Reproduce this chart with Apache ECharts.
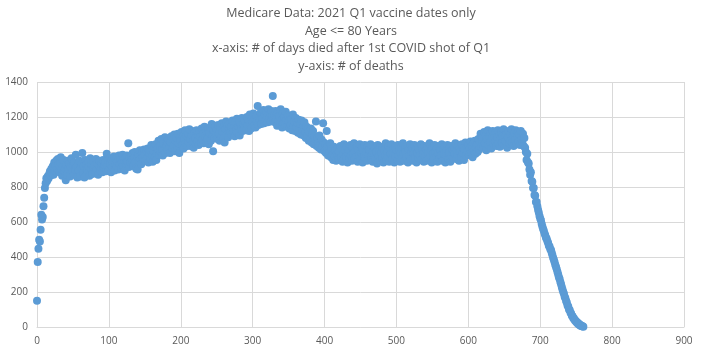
<!DOCTYPE html>
<html lang="en">
<head>
    <meta charset="UTF-8">
    <title>Medicare Data: 2021 Q1 vaccine dates only</title>
    <script src="https://cdn.jsdelivr.net/npm/echarts@6/dist/echarts.min.js"></script>
    <style>
        html, body { margin: 0; padding: 0; background: #fff; }
        #mChart { width: 702px; height: 352px; }
    </style>
</head>
<body>
    <div id="mChart"></div>

    <script type="text/javascript">
        // deaths per day after 1st shot, one value per day starting at day 0
        const rampUp = [150, 372, 447, 498, 488, 556, 642, 614, 628, 690, 738, 795, 822, 850, 835,
            862, 848, 875, 890, 866, 905, 880, 918, 870, 940, 895, 925, 952, 905, 960]

        const firstPlateau = [
            930, 885, 945, 970, 900, 865, 920, 955, 890, 910, 838, 925, 870, 950, 905, 935, 860, 915, 965, 895,
            925, 870, 940, 900, 985, 915, 855, 930, 895, 950, 860, 910, 935, 995, 880, 920, 855, 955, 905, 930,
            895, 945, 915, 865, 965, 905, 930, 875, 950, 910, 920, 880, 960, 900, 935, 870, 925, 950, 895, 915,
            935, 885, 955, 910, 925, 945, 890, 990, 920, 950, 900, 965, 930, 885, 955, 915, 940, 975, 895, 930,
            960, 915, 945, 900, 980, 930, 965, 905, 940, 985, 920, 955, 895, 970, 935, 980, 945, 1050, 915, 965,
            940, 980, 955, 995, 920, 965, 1000, 945, 905, 975, 900, 985, 950, 1010, 960, 930, 995, 970, 950, 1015]

        const climb = [
            985, 950, 1010, 965, 1020, 940, 995, 1015, 960, 1040, 985, 945, 1005, 1030, 970, 1045, 955, 995, 1020, 1065,
            985, 1035, 1005, 1075, 1015, 980, 1050, 1010, 1085, 995, 1040, 1060, 1010, 1070, 1025, 995, 1055, 1090, 1025, 1075,
            1035, 1100, 1005, 1065, 1080, 1025, 1105, 1050, 995, 1085, 1065, 1115, 1040, 1090, 1020, 1075, 1125, 1050, 1095, 1035,
            1105, 1055, 1130, 1075, 1035, 1095, 1120, 1060, 1025, 1110, 1080, 1045, 1125, 1065, 1100, 1040, 1115, 1085, 1055, 1135,
            1070, 1105, 1050, 1145, 1090, 1060, 1120, 1075, 1130, 1045, 1110, 1140, 1065, 1160, 1095, 1005, 1125, 1080, 1150, 1100,
            1130, 1075, 1155, 1105, 1065, 1140, 1090, 1165, 1115, 1080, 1145, 1055, 1130, 1175, 1095, 1150, 1085, 1135, 1160, 1110,
            1145, 1100, 1180, 1120, 1155, 1090, 1170, 1125, 1190, 1110, 1150, 1175, 1095, 1165, 1130, 1195, 1120, 1160, 1180, 1140,
            1170, 1125, 1200, 1150, 1185, 1120, 1215, 1160, 1135, 1195, 1170, 1220, 1150, 1190, 1140, 1205, 1175, 1263, 1155, 1200,
            1180, 1225, 1160, 1210, 1190, 1240, 1165, 1215, 1180, 1230, 1200, 1170, 1245, 1190, 1220, 1175, 1235, 1205, 1320, 1185]

        const decline = [
            1215, 1170, 1235, 1190, 1150, 1225, 1180, 1205, 1160, 1245, 1180, 1140, 1220, 1165, 1200, 1155, 1230, 1185, 1145, 1210,
            1175, 1135, 1205, 1155, 1190, 1125, 1215, 1145, 1175, 1120, 1195, 1140, 1170, 1110, 1185, 1135, 1160, 1100, 1180, 1125,
            1155, 1095, 1170, 1115, 1080, 1145, 1090, 1130, 1065, 1115, 1075, 1135, 1055, 1100, 1120, 1045, 1090, 1060, 1175, 1035,
            1080, 1050, 1025, 1095, 1040, 1015, 1070, 1030, 1165, 1055, 1005, 1045, 995, 1120, 1030, 980, 1035, 1000, 1050, 970,
            1020, 985, 955, 1030, 975, 1010, 950, 1015, 980, 960]

        const secondPlateau = [
            1005, 955, 1035, 970, 1020, 945, 990, 1045, 960, 1010, 975, 1030, 940, 995, 1015, 965, 1040, 980, 950, 1025,
            990, 1050, 960, 1000, 970, 1035, 945, 1015, 980, 1045, 955, 995, 1025, 940, 1005, 975, 1040, 965, 1000, 950,
            1030, 980, 1015, 955, 1045, 970, 995, 945, 1035, 990, 1020, 960, 1000, 935, 1040, 975, 1015, 950, 1030, 995,
            965, 1025, 940, 1010, 980, 1050, 955, 1000, 970, 1035, 945, 1015, 990, 1045, 960, 995, 1020, 940, 1030, 975,
            1010, 955, 1040, 980, 1015, 945, 995, 1030, 965, 1050, 990, 950, 1020, 1000, 970, 1035, 940, 1015, 980, 1045,
            960, 1000, 1025, 950, 990, 1040, 970, 1015, 940, 995, 1030, 965, 1010, 980, 1045, 955, 1020, 990, 945, 1035,
            975, 1015, 950, 1030, 995, 965, 1050, 980, 1010, 940, 1025, 990, 960, 1040, 1000, 970, 1020, 945, 995, 1035,
            965, 1010, 980, 1045, 950, 1015, 990, 1030, 940, 1000, 975, 1040, 960, 1020, 995, 945, 1035, 980, 1015, 965,
            1025, 990, 1050, 960, 1010, 980, 1035, 950, 1020, 1000, 970, 1045, 995, 1025, 955, 1015, 1055, 980, 1030, 1000,
            1040, 985, 1020, 1060, 995, 1035, 970, 1050, 1005, 1065, 990, 1030, 1045, 1000, 1075, 1015, 1055, 1105, 1030, 1070,
            1085, 1025, 1115, 1050, 1095, 1010, 1075, 1125, 1040, 1090, 1055, 1105, 1020, 1080, 1120, 1045, 1095, 1060, 1110, 1035,
            1085, 1125, 1050, 1100, 1030, 1075, 1115, 1055, 1090, 1130, 1040, 1095, 1060, 1105, 1025, 1085, 1120, 1050, 1100, 1065,
            1130, 1055, 1095, 1035, 1110, 1070, 1125, 1045, 1090, 1115, 1060, 1100, 1040, 1120, 1075, 1055, 1105, 1035, 1080, 1025]

        const dropOff = [
            1000, 955, 990, 940, 935, 900, 870, 885, 835, 830, 795, 795, 755, 750, 715, 715, 690, 670, 655, 635,
            620, 610, 590, 575, 560, 550, 535, 525, 510, 505, 490, 480, 465, 460, 445, 440, 425, 410, 395, 385,
            370, 355, 343, 330, 315, 300, 285, 275, 257, 245, 228, 215, 200, 190, 173, 165, 148, 140, 123, 117,
            100, 97, 83, 77, 65, 62, 50, 48, 38, 37, 28, 29, 20, 21, 13, 14, 7, 9, 4, 5,
            1]

        const titleLines = [
            'Medicare Data: 2021 Q1 vaccine dates only',
            'Age <= 80 Years',
            'x-axis: # of days died after 1st COVID shot of Q1',
            'y-axis: # of deaths'
        ]

        let deaths = [].concat(rampUp, firstPlateau, climb, decline, secondPlateau, dropOff)
        let points = deaths.map((v, day) => [day, v])

        var mChart = echarts.init(document.getElementById('mChart'))

        const labelFont = 'Open Sans, Liberation Sans, sans-serif'

        mChart.setOption({
            animation: false,
            title: {
                text: titleLines.join('\n'),
                left: 'center',
                top: 0,
                textStyle: {
                    fontFamily: labelFont,
                    fontSize: 12.5,
                    fontWeight: 'normal',
                    color: '#595959',
                    lineHeight: 17.5
                }
            },
            grid: {
                left: 37,
                right: 18,
                top: 82,
                bottom: 25,
                containLabel: false
            },
            xAxis: {
                type: 'value',
                min: 0,
                max: 900,
                interval: 100,
                axisLine: { show: true, lineStyle: { color: '#d9d9d9' } },
                axisTick: { show: false },
                axisLabel: { color: '#595959', fontSize: 10, margin: 9, fontFamily: labelFont, formatter: v => String(v) },
                splitLine: { show: true, lineStyle: { color: '#d9d9d9' } }
            },
            yAxis: {
                type: 'value',
                min: 0,
                max: 1400,
                interval: 200,
                axisLine: { show: false },
                axisTick: { show: false },
                axisLabel: { color: '#595959', fontSize: 10, margin: 9, fontFamily: labelFont, formatter: v => String(v) },
                splitLine: { show: true, lineStyle: { color: '#d9d9d9' } }
            },
            series: [{
                type: 'scatter',
                data: points,
                symbolSize: 8,
                itemStyle: { color: '#5b9bd5', opacity: 1 }
            }]
        })
    </script>
</body>
</html>
